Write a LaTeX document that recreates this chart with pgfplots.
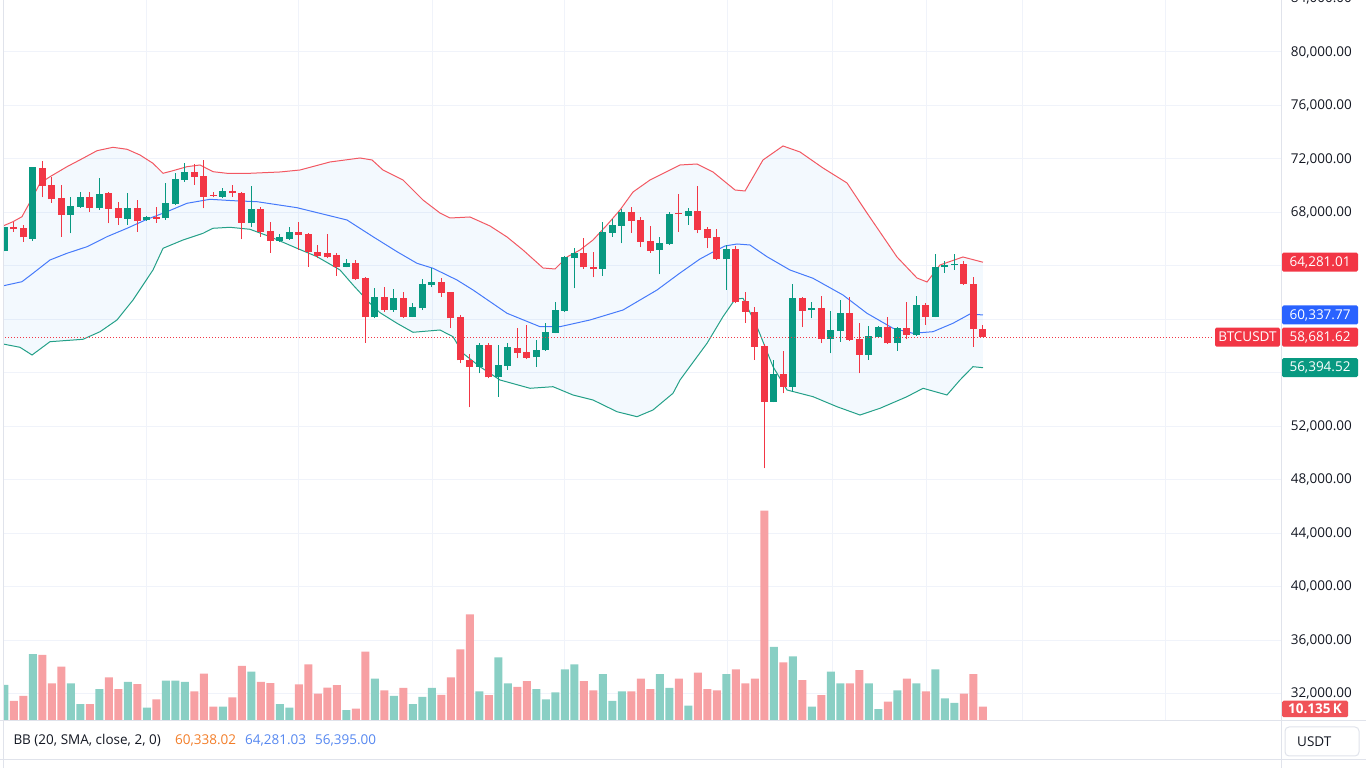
\documentclass[border=0pt]{standalone}
\usepackage{fontspec}
\setmainfont{Open Sans}
\usepackage{pgfplots}
\usepackage{pgfplotstable}
\pgfplotsset{compat=1.18}
\usepgfplotslibrary{fillbetween}

\definecolor{tvgreen}{RGB}{8,153,129}
\definecolor{tvred}{RGB}{242,54,69}
\definecolor{tvblue}{RGB}{41,98,255}
\definecolor{bbup}{RGB}{242,88,98}
\definecolor{bbmid}{RGB}{70,122,250}
\definecolor{bblo}{RGB}{36,160,136}
\definecolor{tvfill}{RGB}{33,150,243}
\definecolor{gridc}{RGB}{240,243,250}
\definecolor{borderc}{RGB}{224,227,235}
\definecolor{volgreen}{RGB}{137,207,196}
\definecolor{volred}{RGB}{247,160,163}
\definecolor{volbox}{RGB}{240,82,88}
\definecolor{axtext}{RGB}{19,23,34}
\definecolor{legorange}{RGB}{242,125,40}
\definecolor{legblue}{RGB}{85,135,240}

% green (up) candles: index open high low close
\pgfplotstableread{
i o h l c
0 65143 66893 65100 66893
3 66018 71420 65900 71379
7 67813 69180 66443 68485
8 68433 69510 68350 69180
10 68313 70557 68186 69360
13 67514 69435 67065 68313
15 67439 67730 67400 67686
17 67566 70183 67439 68733
18 68635 70975 68560 70482
19 70432 71723 70300 71051
23 69180 69800 69050 69630
26 67192 69981 66893 68241
29 65869 66370 65816 66145
30 66018 66893 65943 66565
36 63948 64500 63900 64197
39 60163 62330 60088 61658
41 60708 62280 60580 61584
43 60209 61200 60150 60910
44 60836 63005 60708 62631
45 62580 63826 62405 62829
50 56471 58264 55977 58093
52 55678 58093 54227 56597
53 56546 58220 56221 57920
56 57173 58466 56471 57715
57 57715 59754 57665 59041
58 59019 61333 58966 60708
59 60655 64747 60580 64650
60 64575 65322 62330 64994
63 63774 67312 63251 66565
64 66494 67490 66190 67065
65 67013 68238 65696 68060
69 65210 66145 63377 65696
70 65642 68060 65570 67888
72 67738 68300 67065 68135
76 64500 65570 62206 65247
81 53853 56971 53800 55924
83 54970 62655 54600 61584
85 60700 61330 60088 60830
87 58520 60655 57470 59214
88 59150 61456 58339 60462
91 57345 59514 56971 58765
92 58713 59500 58600 59420
94 58220 59460 57665 59340
96 58840 61756 58790 61084
98 60213 64897 60163 63948
99 63948 64400 63500 64075
100 64075 64897 63700 64150
}\upc

% red (down) candles: index open high low close
\pgfplotstableread{
i o h l c
1 66893 67312 66565 66744
2 66818 67065 65816 66145
4 71327 71872 69136 69981
5 70056 70632 68733 68986
6 69061 70056 66191 67813
9 69136 69510 68060 68313
11 69435 69555 67192 68261
12 68313 68808 67065 67565
14 68313 68934 66565 67364
16 67640 68433 67236 67535
20 71027 71626 70056 70677
21 70722 71925 68313 69180
22 69330 69555 69136 69233
24 69607 70020 69180 69435
25 69480 69555 65992 67236
27 68241 68388 66191 66565
28 66639 67312 64994 65891
31 66565 67266 65196 66317
32 66392 66443 63948 65024
33 65069 65570 64575 64747
34 64949 66392 64575 64650
35 64822 64994 63251 63948
37 64197 64440 62950 63005
38 63079 63199 58264 60163
40 61658 62405 60580 60708
42 61584 62080 60088 60209
46 62829 63079 61707 61956
47 62032 62080 59341 60088
48 60163 60350 56723 56934
49 56971 57397 53435 56471
51 58093 58220 55603 55678
54 57890 59341 57098 57516
55 57547 59589 57024 57143
61 64994 66070 63774 63900
62 63910 65069 63155 63774
66 68060 68388 66488 67386
67 67439 67686 65398 65816
68 65869 66992 64994 65122
71 67935 69383 66565 67863
73 68135 69981 66443 66690
74 66744 66893 65322 66070
75 66145 66744 64447 64500
77 65247 65494 61207 61330
78 61405 62080 59759 60580
79 60580 60954 56971 57964
80 57993 58168 48873 53853
82 55898 57665 54480 54970
84 61584 61707 59420 60655
86 60830 61756 58220 58520
89 60462 61707 58414 58466
90 58520 59759 55977 57345
93 59420 60213 58168 58220
95 59340 61330 58520 58840
97 61084 61207 59589 60213
101 64150 64400 62580 62650
102 62650 63150 57966 59266
103 59266 59589 58681.62 58681.62
}\dnc

% volumes (K)
\pgfplotstableread{
i v
0 26.1
3 48.8
7 27.3
8 12.1
10 23.1
13 28.3
15 9.4
17 29.2
18 29.2
19 28.3
23 10.1
26 35.8
29 12.1
30 9.4
36 7.7
39 30.7
41 18.0
43 12.1
44 17.3
45 23.9
50 21.3
52 46.4
53 27.3
56 23.1
57 15.6
58 20.7
59 37.6
60 41.3
63 34.1
64 14.5
65 21.4
69 34.1
70 23.9
72 10.9
76 34.1
81 54.0
83 47.1
85 10.1
87 35.8
88 27.3
91 27.3
92 8.4
94 22.2
96 27.3
98 37.6
99 16.3
100 12.9
}\volg

\pgfplotstableread{
i v
1 14.5
2 18.0
4 48.1
5 27.3
6 39.5
9 12.1
11 31.7
12 23.1
14 26.8
16 15.6
20 21.4
21 34.4
22 10.1
24 17.0
25 40.2
27 28.3
28 27.5
31 26.6
32 41.3
33 19.7
34 24.1
35 25.9
37 8.7
38 50.5
40 22.2
42 23.9
46 18.9
47 31.7
48 52.3
49 78.0
51 18.7
54 24.6
55 29.0
61 29.0
62 22.2
66 21.4
67 30.7
68 23.1
71 30.7
73 35.1
74 23.1
75 22.2
77 37.6
78 27.3
79 30.7
80 154.1
82 42.7
84 29.7
86 18.7
89 27.3
90 36.9
93 13.8
95 30.7
97 21.4
101 19.7
102 34.1
103 10.135
}\volr

\newcommand{\tvfont}{\fontsize{13.5}{16}\selectfont}

\begin{document}
\begin{tikzpicture}[x=1pt,y=1pt]

\begin{axis}[
  at={(3pt,47.5pt)}, anchor=south west,
  width=1278pt, height=720.5pt, scale only axis,
  xmin=-0.137, xmax=134.39, ymin=30016, ymax=83888,
  set layers,
  axis line style={draw=none},
  tick style={draw=none}, major tick length=0pt,
  xtick={14.99,30.95,45.05,59.02,76.1,87.16,97.09,107.16,122.25},
  xticklabels={{},{},{},{},{},{},{},{},{}},
  ytick={32000,36000,40000,44000,48000,52000,56000,60000,64000,68000,72000,76000,80000},
  yticklabels={{32,000.00},{36,000.00},{40,000.00},{44,000.00},{48,000.00},{52,000.00},{},{},{},{68,000.00},{72,000.00},{76,000.00},{80,000.00}},
  yticklabel pos=right,
  yticklabel style={anchor=west, inner sep=0pt, xshift=9.7pt, text=axtext, font=\tvfont},
  grid=major,
  major grid style={draw=gridc, line width=1pt},
]
% Bollinger bands
\addplot[name path=up, bbup, line width=1pt, no marks] coordinates {
(-0.45,66915) (-0.14,66990) (0.92,67312) (1.86,67685) (2.92,69061) (3.76,70183) (4.81,70676) (6.60,71424) (8.28,72052) (9.76,72620) (11.44,72874) (12.92,72725) (14.28,72299) (15.65,71678) (16.71,70930) (17.76,71125) (19.23,71424) (20.60,71551) (21.97,71050) (23.44,70930) (25.86,70930) (29.02,71028) (31.13,71177) (34.28,71775) (37.44,72074) (38.71,71925) (39.86,71177) (41.97,70429) (44.07,68934) (45.86,67962) (46.92,67588) (49.02,67663) (51.13,66990) (52.92,66167) (54.60,65195) (56.71,63850) (57.97,63775) (59.23,64672) (60.60,65195) (61.97,65943) (63.44,67065) (64.81,68186) (66.18,69532) (67.97,70429) (70.07,71177) (71.13,71551) (72.92,71626) (74.60,71028) (76.92,69682) (77.97,69607) (79.86,71925) (81.97,72972) (83.76,72523) (86.18,71327) (88.71,70205) (90.81,67962) (93.97,64672) (96.07,63102) (97.13,62803) (98.49,64074) (100.91,64672) (103.02,64281.01)
};
\addplot[bbmid, line width=1pt, no marks] coordinates {
(-0.45,62466) (1.86,62825) (3.02,63453) (4.81,64448) (6.60,64949) (8.71,65442) (10.81,66190) (12.92,66818) (15.02,67491) (17.13,68059) (19.23,68687) (21.65,68986) (24.07,68882) (26.60,68807) (30.81,68358) (36.07,67439) (38.81,66190) (41.34,65068) (43.44,64201) (45.13,63827) (47.65,62952) (49.34,62205) (52.92,60463) (56.39,59461) (58.49,59461) (61.65,59962) (65.13,60709) (68.71,62205) (71.13,63476) (73.23,64523) (74.60,65046) (75.86,65495) (77.13,65644) (78.49,65569) (80.28,64695) (82.70,63700) (85.13,63080) (88.28,61831) (90.81,60463) (93.55,59341) (95.65,58967) (97.76,59087) (99.86,59715) (101.65,60410) (103.02,60337.77)
};
\addplot[name path=lo, bblo, line width=1pt, no marks] coordinates {
(-0.45,58204) (-0.14,58167) (1.65,57920) (2.92,57345) (4.81,58339) (8.28,58518) (10.08,59087) (11.86,59962) (13.55,61457) (15.65,63700) (16.71,65323) (18.81,65943) (20.92,66444) (21.97,66818) (23.76,66893) (25.86,66743) (27.97,66190) (30.81,65323) (32.92,64695) (35.34,63700) (36.71,62579) (38.49,61210) (39.55,60507) (41.34,59715) (43.02,59042) (45.86,59214) (47.23,58713) (48.28,57472) (50.07,56470) (52.18,55475) (55.34,54855) (57.76,54974) (59.86,54354) (61.97,53980) (64.49,53105) (66.60,52731) (68.28,53232) (70.39,54481) (71.13,55475) (72.18,56492) (73.97,58219) (75.65,60208) (76.92,61509) (77.76,61584) (79.23,59461) (80.92,56470) (82.39,54728) (85.13,54227) (87.65,53479) (90.07,52858) (92.18,53359) (95.02,54227) (96.71,54855) (99.23,54354) (100.60,55475) (101.97,56470) (103.02,56394.52)
};
\addplot[fill=tvfill, fill opacity=0.055, draw=none] fill between[of=up and lo];

% wicks
\addplot[draw=none, mark=none, error bars/.cd, y dir=plus, y explicit, error mark=none,
  error bar style={line width=1pt, draw=tvgreen}]
  table[x=i, y=l, y error expr=\thisrow{h}-\thisrow{l}] {\upc};
\addplot[draw=none, mark=none, error bars/.cd, y dir=plus, y explicit, error mark=none,
  error bar style={line width=1pt, draw=tvred}]
  table[x=i, y=l, y error expr=\thisrow{h}-\thisrow{l}] {\dnc};
% bodies
\addplot[draw=none, mark=none, error bars/.cd, y dir=plus, y explicit, error mark=none,
  error bar style={line width=7pt, draw=tvgreen}]
  table[x=i, y=o, y error expr=\thisrow{c}-\thisrow{o}] {\upc};
\addplot[draw=none, mark=none, error bars/.cd, y dir=plus, y explicit, error mark=none,
  error bar style={line width=7pt, draw=tvred}]
  table[x=i, y=c, y error expr=\thisrow{o}-\thisrow{c}] {\dnc};

% last price line
\addplot[tvred, line width=1pt, dash pattern=on 1pt off 2pt, no marks] coordinates {(-0.2,58681.62) (127.23,58681.62)};
\end{axis}

% volume pane overlay
\begin{axis}[
  at={(3pt,47.5pt)}, anchor=south west,
  width=1278pt, height=720.5pt, scale only axis,
  xmin=-0.137, xmax=134.39, ymin=0, ymax=529.1,
  hide axis,
]
\addplot[ybar, bar width=8pt, bar shift=0pt, fill=volgreen, draw=none] table[x=i, y=v] {\volg};
\addplot[ybar, bar width=8pt, bar shift=0pt, fill=volred, draw=none] table[x=i, y=v] {\volr};
\end{axis}

% frame lines
\draw[borderc, line width=1pt] (0,47.5) -- (1366,47.5);
\draw[borderc, line width=1pt] (0,8) -- (1366,8);
\draw[borderc, line width=1pt] (1281.5,0) -- (1281.5,768);
\draw[borderc, line width=1pt] (3,0) -- (3,768);

% top scale label, partly cut by the page edge as in the reference
\node[anchor=west, inner sep=0pt, text=axtext, font=\tvfont] at (1290.7,769.5) {84,000.00};

% price scale labels
\tikzset{lab/.style={inner sep=0pt, text=white, font=\tvfont, minimum height=19pt, rounded corners=1.5pt}}
\node[lab, fill=tvred, minimum width=76pt] at (1320,505.8) {64,281.01};
\node[lab, fill=tvblue, minimum width=76pt] at (1320,453.0) {60,337.77};
\node[lab, fill=tvred, minimum width=76pt] at (1320,430.9) {58,681.62};
\node[lab, fill=tvred, minimum width=65pt] at (1247.5,430.9) {BTCUSDT};
\node[lab, fill=tvgreen, minimum width=76pt] at (1320,400.3) {56,394.52};
\node[lab, fill=volbox, minimum width=66pt, minimum height=16.5pt, font=\tvfont\bfseries] at (1315,59) {10.135\,K};

% currency box
\draw[borderc, fill=white, rounded corners=4pt, line width=1pt] (1285,12) rectangle (1359,41);
\node[anchor=base west, inner sep=0pt, text=axtext, font=\tvfont] at (1297,21.7) {USDT};

% indicator legend
\node[anchor=base west, inner sep=0pt, text=axtext, font=\tvfont] at (13.3,23.3) {BB (20, SMA, close, 2, 0)};
\node[anchor=base west, inner sep=0pt, text=legorange, font=\tvfont] at (175,23.3) {60,338.02};
\node[anchor=base west, inner sep=0pt, text=legblue, font=\tvfont] at (245,23.3) {64,281.03};
\node[anchor=base west, inner sep=0pt, text=legblue, font=\tvfont] at (315,23.3) {56,395.00};

\pgfresetboundingbox
\path[use as bounding box] (0,0) rectangle (1366,768);
\end{tikzpicture}
\end{document}
